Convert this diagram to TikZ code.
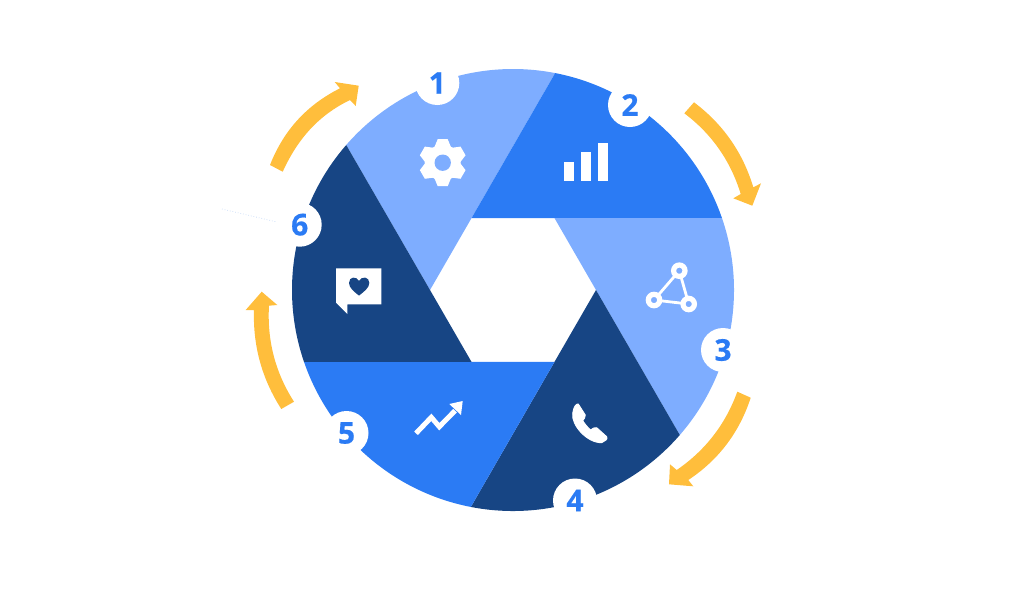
\documentclass[tikz,border=0pt]{standalone}
\usepackage{fontspec}
\setmainfont{Open Sans}[BoldFeatures={FakeBold=0.5}]
\definecolor{paleblue}{HTML}{7EADFF}
\definecolor{midblue}{HTML}{2B7BF4}
\definecolor{navyblue}{HTML}{174584}
\definecolor{amber}{HTML}{FFBE3C}
\definecolor{hairline}{HTML}{C4D8F6}
\tikzset{
  badge/.style={circle,fill=white,minimum size=44pt,inner sep=0pt,text=midblue,
    font=\fontsize{30}{30}\selectfont\bfseries},
  flow/.style={fill=amber},
  glyph/.style={fill=white},
}
\begin{document}
\begin{tikzpicture}[x=1pt,y=1pt,yscale=-1]
\useasboundingbox (0,0) rectangle (1024,614);

% shutter blades, each one turned 60 degrees from the previous
\begin{scope}[shift={(513,290)}]
  \foreach \k/\c in {0/paleblue,1/midblue,2/paleblue,3/navyblue,4/midblue,5/navyblue}{
    \fill[\c,rotate=60*\k] (180:83) -- (-139:221) arc[start angle=-139,end angle=-79,radius=221]
      -- (-120:83) -- cycle;
  }
\end{scope}

% circular flow arrows
\fill[flow] (270,165) .. controls (283.5,130.5) and (306.8,104.9) .. (340,88.3) -- (334.7,82) -- (358.7,85.7)
  -- (355.7,106) -- (350,100) .. controls (318.2,115.4) and (297.5,139.3) .. (282.7,171.7) -- cycle;
\fill[flow] (694,102.3) .. controls (723.1,124.2) and (742.9,152.6) .. (753.3,187.3) -- (761,183.3) -- (752.3,205.7)
  -- (733.3,198.3) -- (740.7,194) .. controls (730.6,160.9) and (711.8,134) .. (684.3,113.3) -- cycle;
\fill[flow] (750.7,397.7) .. controls (739.4,432.4) and (718.6,459.9) .. (688.3,480) -- (693.3,486.3) -- (669,484.3)
  -- (670,464.3) -- (676.7,470) .. controls (705.3,450.4) and (725.5,424.3) .. (737.3,391.7) -- cycle;
\fill[flow] (281.3,409) .. controls (261.9,378.8) and (252.8,345.8) .. (254,310) -- (245.7,310) -- (261.7,291.7)
  -- (277.3,305) -- (269,305.7) .. controls (267,340.6) and (275.3,372.6) .. (294,401.7) -- cycle;

% faint dotted trace beside badge 6
\coordinate (traceA) at (222,209);
\coordinate (traceB) at (277,222);
\draw[hairline,dotted,line width=.7pt] (traceA) -- (traceB);

% numbered badges
\node[badge] (n1) at (437.3,83) {1};
\node[badge] (n2) at (630,105) {2};
\node[badge] (n3) at (723,350) {3};
\node[badge] (n4) at (575,500.5) {4};
\node[badge] (n5) at (346.5,433) {5};
\node[badge] (n6) at (299.7,224.7) {6};

% gear
\begin{scope}[shift={(442.7,162.7)}]
  \fill[glyph] (0,0) circle[radius=18];
  \foreach \a in {0,60,...,300}{
    \fill[glyph,rotate=\a] (-8.5,-15) -- (-5,-23.5) -- (5,-23.5) -- (8.5,-15) -- cycle;
  }
  \fill[paleblue] (0,0) circle[radius=8.2];
\end{scope}

% bar chart
\fill[glyph] (564.3,161.7) rectangle (573.7,181.3);
\fill[glyph] (581.3,152.3) rectangle (590.7,181.3);
\fill[glyph] (598.3,143.3) rectangle (607.7,181.3);

% network triangle
\coordinate (netA) at (679.3,270.7);
\coordinate (netB) at (654,300);
\coordinate (netC) at (688.7,304);
\draw[white,line width=2.8pt] (netA) -- (netB) -- (netC) -- cycle;
\foreach \p in {netA,netB,netC}{
  \draw[white,line width=5.2pt,fill=paleblue] (\p) circle[radius=5.7];
}

% telephone handset
\filldraw[glyph,draw=white,line width=.9pt,line join=round] (578.3,404) -- (585.3,415) .. controls (585.6,417) and (584,419) .. (582.7,420.7)
  .. controls (585,424) and (587.5,427.5) .. (590.7,430)
  .. controls (592.5,428.5) and (594.5,427) .. (596.7,427.7)
  -- (606.7,436.7) .. controls (607.5,438) and (606.8,439.5) .. (606,440)
  -- (601.7,442.7) .. controls (587,443) and (571,425) .. (572.7,413.3)
  .. controls (573,410) and (574,408) .. (575,406)
  .. controls (576,404.5) and (577.2,403.5) .. (578.3,404) -- cycle;

% rising trend line
\draw[white,line width=5pt,line join=miter] (416,433.3) -- (431.3,417.3) -- (439.3,426.7) -- (455,410.7);
\fill[glyph] (462.7,401) -- (449.3,404) -- (461,415) -- cycle;

% speech bubble with heart
\fill[glyph] (336,268.3) -- (381.3,268.3) -- (381.3,304.3) -- (347.3,304.3) -- (347.3,314)
  -- (336,302.7) -- cycle;
\fill[navyblue] (359,295.6) .. controls (354,291.5) and (349,288) .. (349,282.8)
  .. controls (349,276.5) and (356.5,276) .. (359,280.8)
  .. controls (361.5,276) and (369.3,276.5) .. (369.3,282.8)
  .. controls (369.3,288) and (364,291.5) .. (359,295.6) -- cycle;
\end{tikzpicture}
\end{document}
